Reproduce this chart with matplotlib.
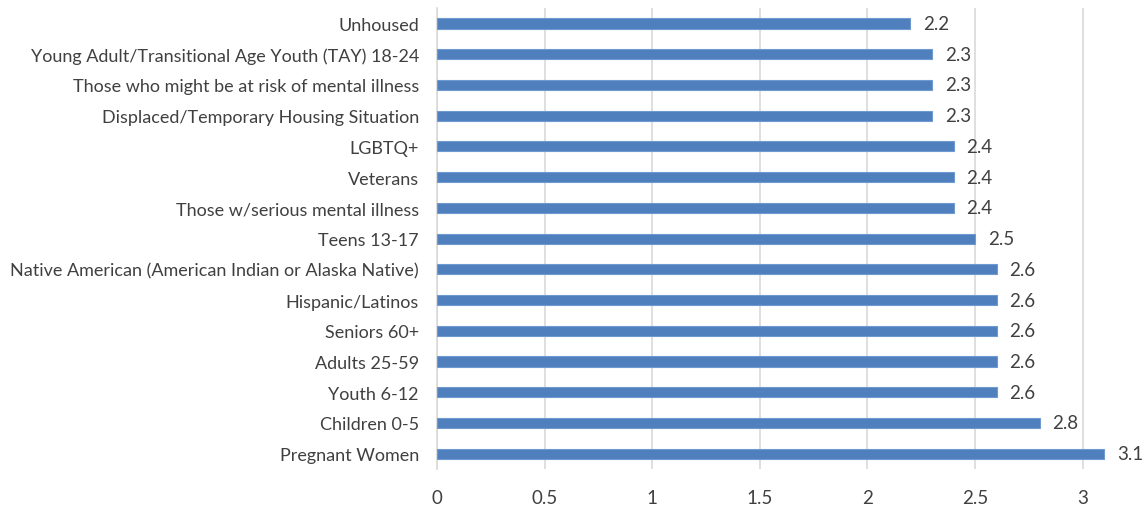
import matplotlib.pyplot as plt

# categories listed top to bottom as in the chart
categories = ['Unhoused',
              'Young Adult/Transitional Age Youth (TAY) 18-24',
              'Those who might be at risk of mental illness',
              'Displaced/Temporary Housing Situation',
              'LGBTQ+',
              'Veterans',
              'Those w/serious mental illness',
              'Teens 13-17',
              'Native American (American Indian or Alaska Native)',
              'Hispanic/Latinos',
              'Seniors 60+',
              'Adults 25-59',
              'Youth 6-12',
              'Children 0-5',
              'Pregnant Women']
values = [2.2, 2.3, 2.3, 2.3, 2.4, 2.4, 2.4, 2.5, 2.6, 2.6, 2.6, 2.6, 2.6, 2.8, 3.1]
xticks = [0, 0.5, 1, 1.5, 2, 2.5, 3]
xtick_labels = ['0', '0.5', '1', '1.5', '2', '2.5', '3']

plt.rcParams['font.family'] = ['Lato', 'DejaVu Sans']

fig = plt.figure(figsize=(11.44, 5.06), dpi=100)
ax = fig.add_axes([0.382, 0.071, 0.618, 0.911])

pos = list(range(len(categories)))
ax.barh(pos, values, height=0.33, color='#4f7fbd', edgecolor='#6f9ad0', linewidth=0.8, zorder=3)

for p, v in zip(pos, values):
    ax.text(v + 0.06, p, str(v), va='center', ha='left', fontsize=13.5, color='#404040')

ax.set_yticks(pos)
ax.set_yticklabels(categories, fontsize=13, color='#404040')
ax.set_ylim(len(categories) - 0.5, -0.5)
ax.set_xlim(0, 3.285)
ax.set_xticks(xticks)
ax.set_xticklabels(xtick_labels, fontsize=13.5, color='#404040')
ax.tick_params(axis='both', length=0)
ax.tick_params(axis='x', pad=14)
ax.tick_params(axis='y', pad=13)
ax.grid(axis='x', color='#d9d9d9', linewidth=1.2, zorder=0)
for s in ['top', 'right', 'bottom']:
    ax.spines[s].set_visible(False)
ax.spines['left'].set_color('#d9d9d9')
ax.spines['left'].set_linewidth(1.2)

fig.savefig('out.png', dpi=100)
